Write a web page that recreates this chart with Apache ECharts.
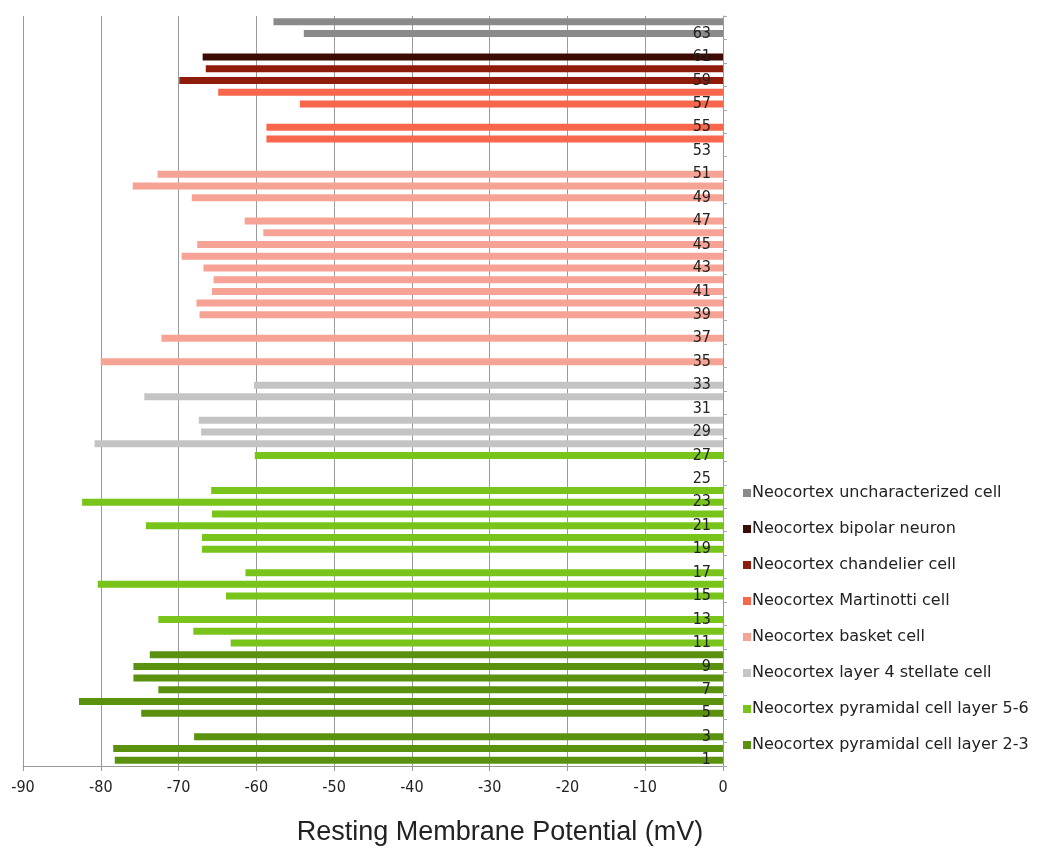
<!DOCTYPE html>
<html>
<head>
<meta charset="utf-8">
<script src="https://cdn.jsdelivr.net/npm/echarts@6/dist/echarts.min.js"></script>
<style>
html,body{margin:0;padding:0;background:#fff;}
#chart{width:1039px;height:854px;}
</style>
</head>
<body>
<div id="chart"></div>
<script>
// Cell numbers (category axis, bottom to top)
const cellNumbers = [];
for (let i = 1; i <= 64; i++) cellNumbers.push(String(i));

// Series: cell type names (legend order, top to bottom)
const seriesNames = [
  'Neocortex uncharacterized cell',
  'Neocortex bipolar neuron',
  'Neocortex chandelier cell',
  'Neocortex Martinotti cell',
  'Neocortex basket cell',
  'Neocortex layer 4 stellate cell',
  'Neocortex pyramidal cell layer 5-6',
  'Neocortex pyramidal cell layer 2-3'
];
const seriesColors = ['#8a8a8a', '#3c0b03', '#8f1b0a', '#f8674b', '#f6a294', '#c4c4c4', '#78c41b', '#5a9210'];

// Resting membrane potential (mV) per cell, by cell type (cell number -> value)
const pyramidal23 = {1: -78.2, 2: -78.4, 3: -68.0, 5: -74.8, 6: -82.8, 7: -72.6, 8: -75.8, 9: -75.8, 10: -73.7};
const pyramidal56 = {11: -63.3, 12: -68.1, 13: -72.6, 15: -63.9, 16: -80.4, 17: -61.4, 19: -67.0, 20: -67.0,
                     21: -74.2, 22: -65.7, 23: -82.4, 24: -65.8, 27: -60.2};
const stellate4 = {28: -80.8, 29: -67.1, 30: -67.4, 32: -74.4, 33: -60.3};
const basket = {35: -80.0, 37: -72.2, 39: -67.3, 40: -67.7, 41: -65.7, 42: -65.5, 43: -66.8, 44: -69.6,
                45: -67.6, 46: -59.1, 47: -61.5, 49: -68.3, 50: -75.9, 51: -72.7};
const martinotti = {54: -58.7, 55: -58.7, 57: -54.4, 58: -64.9};
const chandelier = {59: -69.9, 60: -66.5};
const bipolar = {61: -66.9};
const uncharacterized = {63: -53.9, 64: -57.8};

// X axis ticks
const xMin = -90, xMax = 0, xStep = 10;
const xTitle = 'Resting Membrane Potential (mV)';

const groups = [uncharacterized, bipolar, chandelier, martinotti, basket, stellate4, pyramidal56, pyramidal23];

const series = groups.map((g, i) => ({
  name: seriesNames[i],
  type: 'bar',
  stack: 'all',
  barWidth: 7,
  itemStyle: { color: seriesColors[i] },
  data: cellNumbers.map(c => (g[c] !== undefined ? g[c] : null))
}));

const chart = echarts.init(document.getElementById('chart'), null, { renderer: 'canvas' });
chart.setOption({
  backgroundColor: '#ffffff',
  animation: false,
  title: {
    text: xTitle,
    left: 495,
    top: 814,
    textAlign: 'center',
    textStyle: { fontFamily: 'Liberation Sans', fontSize: 27, fontWeight: 'normal', color: '#222' }
  },
  grid: { left: 23, right: 316, top: 16, bottom: 88, containLabel: false },
  legend: {
    orient: 'vertical',
    left: 738,
    top: 479,
    icon: 'rect',
    itemWidth: 8,
    itemHeight: 8,
    itemGap: 18,
    data: seriesNames,
    textStyle: { fontFamily: 'DejaVu Sans', fontSize: 16, lineHeight: 18, color: '#222', padding: [0, 0, 0, -4] }
  },
  xAxis: {
    type: 'value',
    min: xMin,
    max: xMax,
    interval: xStep,
    position: 'bottom',
    axisLine: { show: true, onZero: false, lineStyle: { color: '#999', width: 1 } },
    axisTick: { show: true, length: 5, lineStyle: { color: '#999' } },
    axisLabel: { fontFamily: 'Liberation Sans Narrow, DejaVu Sans Condensed', fontSize: 16, color: '#222', margin: 14 },
    splitLine: { show: true, lineStyle: { color: '#9a9a9a', width: 1 } }
  },
  yAxis: {
    type: 'category',
    data: cellNumbers,
    position: 'right',
    axisLine: { show: true, onZero: false, lineStyle: { color: '#999', width: 1 } },
    axisTick: { show: true, inside: false, length: 4, interval: 1, lineStyle: { color: '#aaa' } },
    axisLabel: {
      inside: true,
      interval: 1,
      margin: 12,
      fontFamily: 'Liberation Sans Narrow, DejaVu Sans Condensed',
      fontSize: 16,
      color: '#222'
    },
    z: 10
  },
  series: series
});
</script>
</body>
</html>
